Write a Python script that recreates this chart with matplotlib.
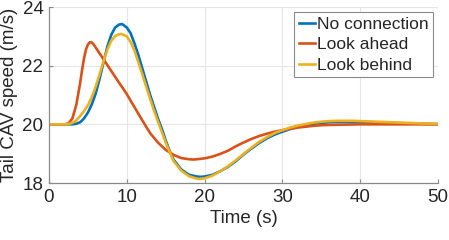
import numpy as np
import matplotlib.pyplot as plt

# values
t_none = [0, 1, 2, 3, 3.5, 4, 4.5, 5, 5.5, 6, 6.5, 7, 7.5, 8, 8.5, 9, 9.4, 10, 10.5, 11,
          11.5, 12, 12.5, 13, 13.5, 14, 14.5, 15, 15.5, 16, 17, 18, 19, 19.5, 20, 21, 22,
          23, 24, 25, 26, 27, 28, 29, 30, 31, 32, 33, 34, 35, 36, 37, 38, 40, 42, 45, 48, 50]
v_none = [20.0, 20.0, 20.0, 20.0, 20.02, 20.07, 20.2, 20.4, 20.68, 21.05, 21.55, 22.1, 22.65,
          23.05, 23.3, 23.4, 23.42, 23.3, 23.1, 22.75, 22.35, 21.9, 21.45, 21.0, 20.6, 20.2,
          19.85, 19.45, 19.1, 18.8, 18.46, 18.28, 18.22, 18.21, 18.22, 18.28, 18.4, 18.55,
          18.74, 18.97, 19.17, 19.36, 19.52, 19.65, 19.75, 19.84, 19.92, 19.97, 20.02, 20.05,
          20.07, 20.08, 20.08, 20.07, 20.06, 20.04, 20.02, 20.01]

t_ahead = [0, 1, 2, 2.5, 3, 3.5, 4, 4.25, 4.5, 4.75, 5, 5.25, 5.5, 5.75, 6, 6.5, 7, 7.5, 8,
           8.5, 9, 9.5, 10, 11, 12, 13, 14, 15, 16, 17, 18, 18.5, 19, 20, 21, 22, 23, 24, 25,
           26, 27, 28, 29, 30, 31, 32, 33, 34, 35, 36, 38, 40, 45, 50]
v_ahead = [20.0, 20.0, 20.0, 20.03, 20.2, 20.65, 21.4, 21.85, 22.25, 22.55, 22.72, 22.8,
           22.79, 22.72, 22.62, 22.42, 22.22, 22.02, 21.82, 21.62, 21.42, 21.23, 21.03, 20.58,
           20.13, 19.7, 19.38, 19.13, 18.96, 18.85, 18.81, 18.8, 18.81, 18.84, 18.9, 18.99,
           19.1, 19.25, 19.38, 19.5, 19.6, 19.68, 19.75, 19.8, 19.85, 19.89, 19.92, 19.95,
           19.97, 19.98, 19.99, 20.0, 20.0, 20.0]

t_behind = [0, 1, 2, 2.5, 3, 3.5, 4, 4.5, 5, 5.5, 6, 6.5, 7, 7.5, 8, 8.5, 9, 9.3, 10, 10.5,
            11, 11.5, 12, 12.5, 13, 13.5, 14, 14.5, 15, 16, 17, 18, 19, 19.3, 20, 21, 22, 23,
            24, 25, 26, 27, 28, 29, 30, 31, 32, 33, 34, 35, 36, 37, 38, 39, 40, 42, 45, 48, 50]
v_behind = [20.0, 20.0, 20.0, 20.01, 20.05, 20.13, 20.28, 20.45, 20.65, 20.93, 21.28, 21.7,
            22.15, 22.55, 22.85, 23.01, 23.07, 23.08, 23.0, 22.8, 22.5, 22.1, 21.7, 21.28,
            20.87, 20.47, 20.1, 19.74, 19.38, 18.75, 18.42, 18.23, 18.15, 18.14, 18.16, 18.25,
            18.4, 18.57, 18.77, 18.99, 19.2, 19.4, 19.56, 19.7, 19.8, 19.89, 19.96, 20.01,
            20.06, 20.09, 20.11, 20.12, 20.12, 20.12, 20.11, 20.09, 20.06, 20.03, 20.02]

labels = ["No connection", "Look ahead", "Look behind"]
colors = ["#0072BD", "#D95319", "#EDB120"]

plt.rcParams['font.family'] = ['Liberation Sans', 'DejaVu Sans']
txt = '#262626'

fig = plt.figure(figsize=(4.49, 2.4), dpi=100)
ax = fig.add_axes([49/449, 57/240, 389/449, 176/240])

ax.plot(t_none, v_none, color=colors[0], lw=1.9, label=labels[0])
ax.plot(t_ahead, v_ahead, color=colors[1], lw=1.9, label=labels[1])
ax.plot(t_behind, v_behind, color=colors[2], lw=1.9, label=labels[2])

ax.set_xlim(0, 50)
ax.set_ylim(18, 24)
ax.set_xticks([0, 10, 20, 30, 40, 50])
ax.set_yticks([18, 20, 22, 24])
ax.grid(True, color='#e6e6e6', lw=0.8)
ax.set_axisbelow(True)

for s in ['top', 'right']:
    ax.spines[s].set_visible(False)
for s in ['left', 'bottom']:
    ax.spines[s].set_color('#8a8a8a')
    ax.spines[s].set_linewidth(0.9)

ax.tick_params(direction='in', length=3, width=0.8, color='#8a8a8a',
               labelsize=13.5, labelcolor=txt, pad=4)
ax.set_xlabel("Time (s)", fontsize=13.5, color=txt, labelpad=3)
ax.set_ylabel("Tail CAV speed (m/s)", fontsize=13.5, color=txt, labelpad=3)

leg = ax.legend(loc='upper right', fontsize=12.5, frameon=True, fancybox=False,
                handlelength=0.95, handletextpad=0.1, borderpad=0.25,
                labelspacing=0.32, borderaxespad=0.3, framealpha=1)
leg.get_frame().set_edgecolor('#8a8a8a')
leg.get_frame().set_linewidth(0.8)
for t in leg.get_texts():
    t.set_color(txt)

fig.savefig("out.png", dpi=100)
